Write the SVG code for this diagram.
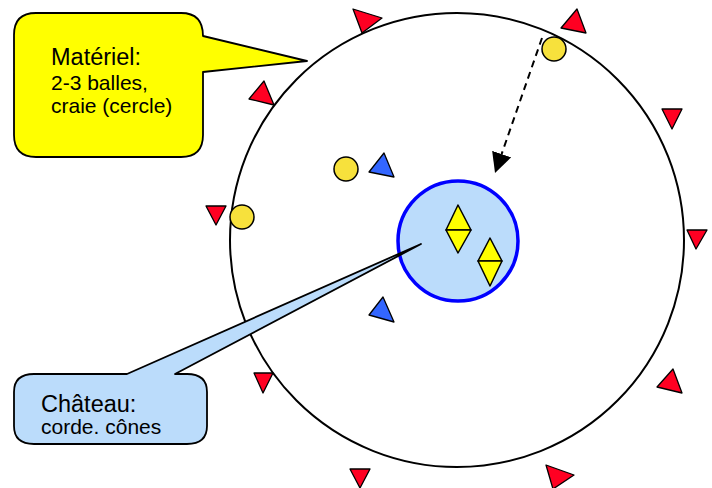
<svg xmlns="http://www.w3.org/2000/svg" width="712" height="488" viewBox="0 0 712 488">
  <style>
    .field { fill: none; stroke: #000; stroke-width: 2; }
    .castle { fill: #bbdcfb; stroke: #0000ff; stroke-width: 3.5; }
    .cone { fill: #ffff00; stroke: #000; stroke-width: 1.5; stroke-linejoin: round; }
    .ball { fill: #f7e13c; stroke: #000; stroke-width: 1.5; }
    .marker-red { fill: #ff0022; stroke: #000; stroke-width: 1.3; stroke-linejoin: round; }
    .player { fill: #3366ff; stroke: #000; stroke-width: 1.3; stroke-linejoin: round; }
    .note-yellow { fill: #ffff00; stroke: #000; stroke-width: 1.8; stroke-linejoin: round; }
    .note-blue { fill: #bbdcfb; stroke: #000; stroke-width: 1.8; stroke-linejoin: round; }
    .title { font-family: "Liberation Sans", Arial, sans-serif; font-size: 23.5px; fill: #000; }
    .body { font-family: "Liberation Sans", Arial, sans-serif; font-size: 21px; fill: #000; }
    .pass { fill: none; stroke: #000; stroke-width: 2; stroke-dasharray: 7 5; }
  </style>
  <defs>
    <marker id="arrowhead" markerUnits="userSpaceOnUse" markerWidth="21" markerHeight="21" refX="0" refY="10" orient="auto" viewBox="0 0 21 21">
      <path d="M0,0 L20,10 L0,20 z" fill="#000"/>
    </marker>
  </defs>

  <rect width="712" height="488" fill="#fff"/>

  <!-- chalk circle (playing field) -->
  <g id="field">
    <circle class="field" cx="457" cy="240" r="227"/>
  </g>

  <!-- castle zone with its two cones -->
  <g id="castle">
    <circle class="castle" cx="458" cy="241" r="60"/>
    <polygon class="cone" points="458,205 446,230 471,230"/>
    <polygon class="cone" points="446,230 471,230 458,253"/>
    <polygon class="cone" points="490,238 478,261 502,261"/>
    <polygon class="cone" points="478,261 502,261 490,286"/>
  </g>

  <!-- red markers around the circle -->
  <g id="markers">
    <polygon class="marker-red" points="353,9 382,18 362,33"/>
    <polygon class="marker-red" points="577,9 586,33 561,28"/>
    <polygon class="marker-red" points="264,81 274,105 249,99"/>
    <polygon class="marker-red" points="206,206 226,206 216,225"/>
    <polygon class="marker-red" points="662,109 682,109 672,129"/>
    <polygon class="marker-red" points="687,230 707,230 696,249"/>
    <polygon class="marker-red" points="254,373 273,373 263,393"/>
    <polygon class="marker-red" points="673,369 682,393 657,387"/>
    <polygon class="marker-red" points="350,469 370,469 360,488"/>
    <polygon class="marker-red" points="546,465 574,475 553,489"/>
  </g>

  <!-- defenders -->
  <g id="players">
    <polygon class="player" points="384,153 394,177 369,172"/>
    <polygon class="player" points="383,297 394,322 369,315"/>
  </g>

  <!-- balls -->
  <g id="balls">
    <circle class="ball" cx="554" cy="49" r="12"/>
    <circle class="ball" cx="346" cy="169" r="12"/>
    <circle class="ball" cx="242" cy="217" r="12"/>
  </g>

  <!-- throw towards the castle -->
  <g id="connectors">
    <line class="pass" x1="542" y1="38" x2="501.6" y2="154.1" marker-end="url(#arrowhead)"/>
  </g>

  <!-- equipment callout -->
  <g id="note-equipment">
    <path class="note-yellow" d="M36,13 H181 Q203,13 203,36 L307,61 L203,72 V135 Q203,157 181,157 H36 Q14,157 14,135 V35 Q14,13 36,13 Z"/>
    <text class="title" x="51" y="65">Matériel:</text>
    <text class="body" x="51" y="90">2-3 balles,</text>
    <text class="body" x="51" y="113">craie (cercle)</text>
  </g>

  <!-- castle callout -->
  <g id="note-castle">
    <path class="note-blue" d="M34,374 H127 L421,244 L175,374 H187 Q207,374 207,392 V426 Q207,444 187,444 H34 Q14,444 14,426 V392 Q14,374 34,374 Z"/>
    <text class="title" x="41" y="412">Château:</text>
    <text class="body" x="41" y="434">corde. cônes</text>
  </g>
</svg>
